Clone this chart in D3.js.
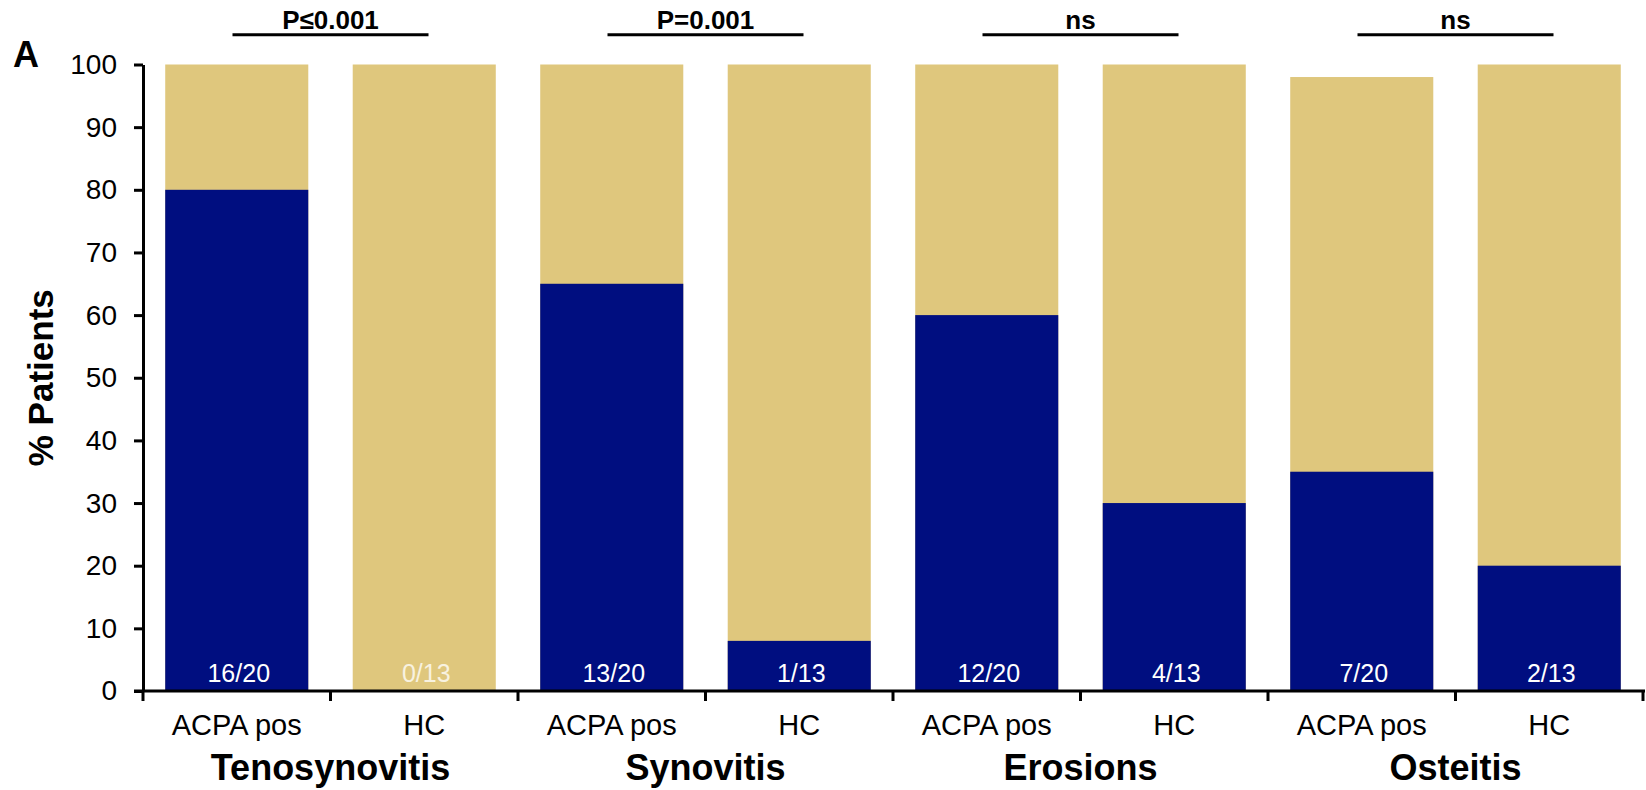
<!DOCTYPE html>
<html>
<head>
<meta charset="utf-8">
<script src="https://cdn.jsdelivr.net/npm/d3@7"></script>
<style>
  html, body { margin: 0; padding: 0; background: #fff; }
  svg { display: block; }
  text { font-family: "Liberation Sans", Arial, Helvetica, sans-serif; }
</style>
</head>
<body>
<svg id="chart" width="1646" height="790"></svg>
<script>
// ---- data ----
const groups = ["Tenosynovitis", "Synovitis", "Erosions", "Osteitis"];
const subgroups = ["ACPA pos", "HC"];
const positivePct = [80, 0, 65, 8, 60, 30, 35, 20];
const totalPct = [100, 100, 100, 100, 100, 100, 98, 100];
const countLabels = ["16/20", "0/13", "13/20", "1/13", "12/20", "4/13", "7/20", "2/13"];
const pLabels = ["P\u22640.001", "P=0.001", "ns", "ns"];
const yTicks = [0, 10, 20, 30, 40, 50, 60, 70, 80, 90, 100];

(function () {
  const rows = [];
  groups.forEach((g, gi) => {
    subgroups.forEach((s, si) => {
      const i = gi * subgroups.length + si;
      rows.push({ key: g + "|" + s, group: g, sub: s, pos: positivePct[i], total: totalPct[i], label: countLabels[i] });
    });
  });

  const navy = "#000e80";
  const tan = "#dfc77d";

  const svg = d3.select("#chart");
  const plotLeft = 143, plotRight = 1643, plotTop = 64.5, plotBottom = 691;

  const x = d3.scaleBand().domain(rows.map(d => d.key)).range([plotLeft, plotRight])
    .paddingInner(0.237).paddingOuter(0.1185);
  const xb = d3.scaleBand().domain(rows.map(d => d.key)).range([plotLeft, plotRight]).padding(0);
  const y = d3.scaleLinear().domain([0, 100]).range([plotBottom, plotTop]);

  // tan (total) bars
  svg.append("g").selectAll("rect").data(rows).join("rect")
    .attr("x", d => x(d.key)).attr("width", x.bandwidth())
    .attr("y", d => y(d.total)).attr("height", d => y(0) - y(d.total))
    .attr("fill", tan);

  // navy (positive) bars
  svg.append("g").selectAll("rect").data(rows).join("rect")
    .attr("x", d => x(d.key)).attr("width", x.bandwidth())
    .attr("y", d => y(d.pos)).attr("height", d => y(0) - y(d.pos))
    .attr("fill", navy);

  // count labels
  svg.append("g").selectAll("text").data(rows).join("text")
    .attr("x", d => x(d.key) + x.bandwidth() / 2 + 2)
    .attr("y", y(0) - 9)
    .attr("text-anchor", "middle")
    .attr("font-size", 25)
    .attr("fill", d => d.pos > 0 ? "#ffffff" : "#f8f2e0")
    .text(d => d.label);

  // y axis
  const yAxis = d3.axisLeft(y).tickValues(yTicks).tickSize(9).tickPadding(17).tickSizeOuter(0);
  const yg = svg.append("g").attr("transform", `translate(${plotLeft},0)`).call(yAxis);
  yg.select(".domain").attr("stroke", "#000").attr("stroke-width", 3);
  yg.selectAll(".tick line").attr("stroke", "#000").attr("stroke-width", 3);
  yg.selectAll(".tick text").attr("font-size", 28).attr("fill", "#000")
    .attr("font-family", "Liberation Sans, Arial, sans-serif");

  // x axis (band boundaries)
  const boundaries = rows.map(d => xb(d.key)).concat([xb(rows[rows.length - 1].key) + xb.bandwidth()]);
  const xg = svg.append("g");
  xg.append("line").attr("x1", plotLeft - 9).attr("x2", plotRight + 2)
    .attr("y1", y(0)).attr("y2", y(0)).attr("stroke", "#000").attr("stroke-width", 3);
  xg.selectAll("line.tk").data(boundaries).join("line").attr("class", "tk")
    .attr("x1", d => d).attr("x2", d => d)
    .attr("y1", y(0)).attr("y2", y(0) + 10)
    .attr("stroke", "#000").attr("stroke-width", 3);

  // subgroup labels
  svg.append("g").selectAll("text").data(rows).join("text")
    .attr("x", d => x(d.key) + x.bandwidth() / 2)
    .attr("y", 735)
    .attr("text-anchor", "middle")
    .attr("font-size", 29)
    .attr("fill", "#000")
    .text(d => d.sub);

  const groupCenter = g => {
    const a = xb(g + "|" + subgroups[0]);
    const b = xb(g + "|" + subgroups[subgroups.length - 1]) + xb.bandwidth();
    return (a + b) / 2;
  };

  // group labels
  svg.append("g").selectAll("text").data(groups).join("text")
    .attr("x", g => groupCenter(g))
    .attr("y", 780)
    .attr("text-anchor", "middle")
    .attr("font-size", 36)
    .attr("font-weight", "bold")
    .attr("fill", "#000")
    .text(g => g);

  // significance bars
  const sig = svg.append("g");
  groups.forEach((g, gi) => {
    const c = groupCenter(g);
    sig.append("line")
      .attr("x1", c - 98).attr("x2", c + 98)
      .attr("y1", 34.7).attr("y2", 34.7)
      .attr("stroke", "#000").attr("stroke-width", 3);
    sig.append("text")
      .attr("x", c).attr("y", 28.5)
      .attr("text-anchor", "middle")
      .attr("font-size", 26)
      .attr("font-weight", "bold")
      .attr("fill", "#000")
      .text(pLabels[gi]);
  });

  // y-axis title
  svg.append("text")
    .attr("transform", `translate(53,${(plotTop + plotBottom) / 2}) rotate(-90)`)
    .attr("text-anchor", "middle")
    .attr("font-size", 35)
    .attr("font-weight", "bold")
    .attr("fill", "#000")
    .text("% Patients");

  // panel letter
  svg.append("text")
    .attr("x", 13).attr("y", 66.7)
    .attr("font-size", 36)
    .attr("font-weight", "bold")
    .attr("fill", "#000")
    .text("A");
})();
</script>
</body>
</html>
